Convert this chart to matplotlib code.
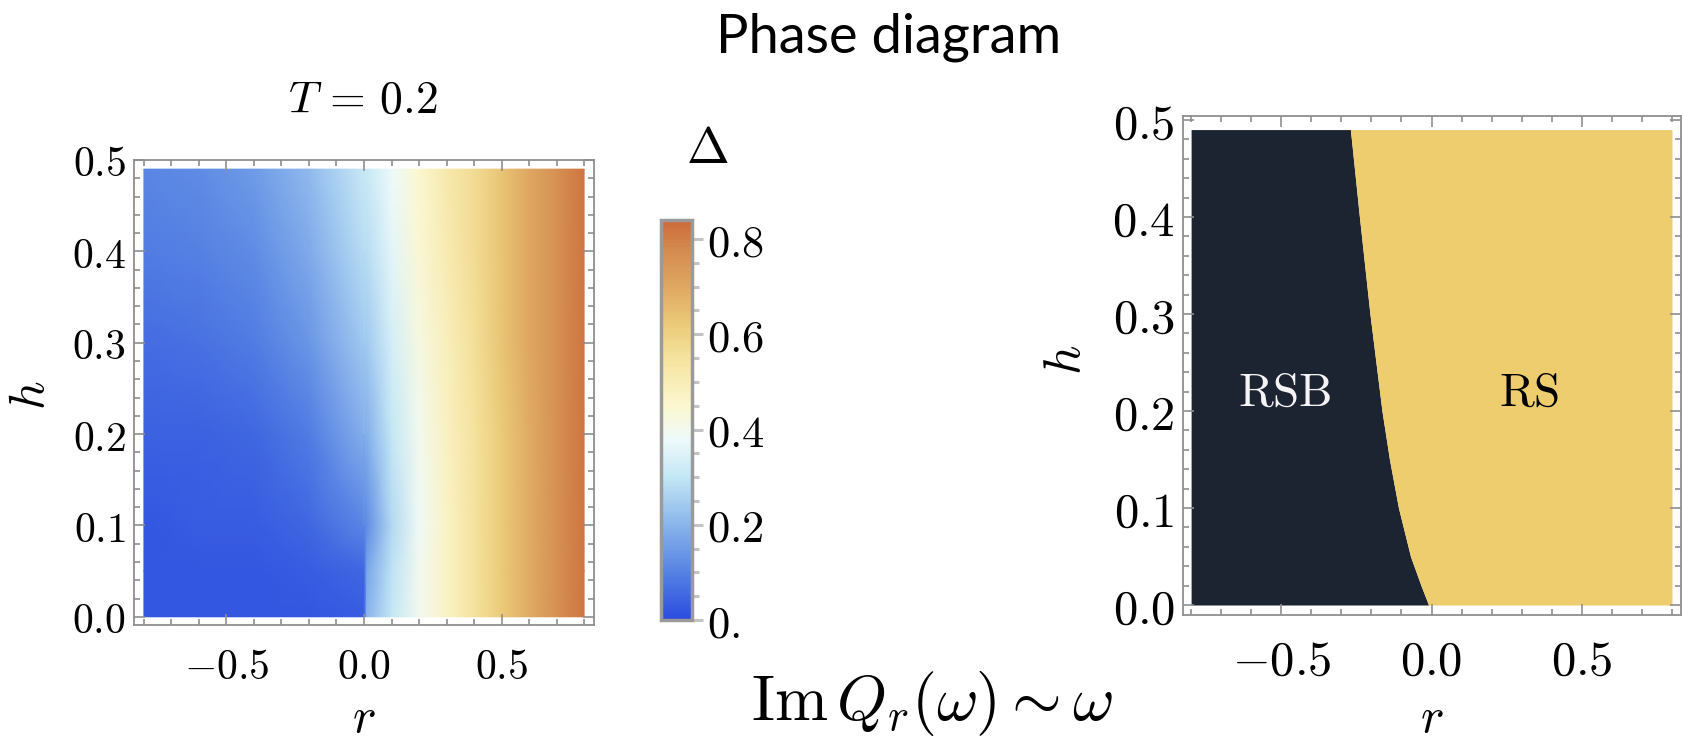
import numpy as np
import matplotlib
matplotlib.use("Agg")
import matplotlib.pyplot as plt
from matplotlib.colors import LinearSegmentedColormap
from matplotlib.ticker import MultipleLocator, FixedLocator, FuncFormatter

plt.rcParams['mathtext.fontset'] = 'cm'
plt.rcParams['font.family'] = ['DejaVu Sans']

# ---------------- data ----------------
# left panel: gap Delta(r, h) on a coarse grid
r_grid = [-0.8, -0.6, -0.4, -0.2, 0.0, 0.01, 0.1, 0.2, 0.3, 0.4, 0.5, 0.6, 0.7, 0.8]
h_grid = [0.0, 0.05, 0.1, 0.2, 0.3, 0.4, 0.49]
delta_h000 = [0.02, 0.02, 0.02, 0.02, 0.03, 0.20, 0.30, 0.40, 0.47, 0.55, 0.62, 0.69, 0.76, 0.82]
delta_h005 = [0.02, 0.02, 0.02, 0.03, 0.05, 0.17, 0.29, 0.40, 0.47, 0.55, 0.62, 0.69, 0.76, 0.82]
delta_h010 = [0.02, 0.03, 0.03, 0.05, 0.11, 0.12, 0.27, 0.39, 0.47, 0.55, 0.62, 0.69, 0.76, 0.82]
delta_h020 = [0.04, 0.04, 0.05, 0.09, 0.19, 0.19, 0.30, 0.40, 0.48, 0.55, 0.62, 0.69, 0.76, 0.82]
delta_h030 = [0.06, 0.07, 0.09, 0.14, 0.24, 0.24, 0.33, 0.42, 0.49, 0.56, 0.63, 0.70, 0.76, 0.82]
delta_h040 = [0.09, 0.10, 0.12, 0.18, 0.28, 0.28, 0.36, 0.44, 0.51, 0.57, 0.63, 0.70, 0.76, 0.82]
delta_h049 = [0.11, 0.12, 0.15, 0.21, 0.31, 0.31, 0.38, 0.45, 0.52, 0.57, 0.63, 0.70, 0.76, 0.82]
delta_min, delta_max = 0.0, 0.84
cbar_ticks = [0.0, 0.2, 0.4, 0.6, 0.8]
cbar_labels = ["0.", "0.2", "0.4", "0.6", "0.8"]

# right panel: RSB / RS boundary r_c(h)
boundary_h = [0.0, 0.02, 0.05, 0.10, 0.15, 0.20, 0.30, 0.40, 0.49]
boundary_r = [-0.01, -0.035, -0.07, -0.11, -0.14, -0.165, -0.205, -0.24, -0.27]
r_min, r_max = -0.8, 0.8

xticks = [-0.5, 0.0, 0.5]
yticks = [0.0, 0.1, 0.2, 0.3, 0.4, 0.5]

# ---------------- styling ----------------
W, H = 1682, 742
DPI = 100
frame_col = '#8f8f8f'
dark_col = '#1c2431'
gold_col = '#edcd6e'

cmap = LinearSegmentedColormap.from_list('temperature', [
    (0.000, '#2b4ce0'),
    (0.119, '#5682e3'),
    (0.238, '#8ab5ec'),
    (0.357, '#c3e7f5'),
    (0.452, '#eefafa'),
    (0.536, '#fcf7d0'),
    (0.655, '#f5e39e'),
    (0.738, '#ebcb79'),
    (0.833, '#dfa862'),
    (0.929, '#d48a4e'),
    (1.000, '#cd6a3a'),
])


def box(x0, y0, x1, y1):
    return [x0 / W, 1 - y1 / H, (x1 - x0) / W, (y1 - y0) / H]


def fmt(v, pos):
    return r"$%.1f$" % v if abs(v) > 1e-9 else r"$0.0$"


def style_frame(ax, size, xpad, ypad):
    for s in ax.spines.values():
        s.set_color(frame_col)
        s.set_linewidth(1.3)
    ax.xaxis.set_major_locator(FixedLocator(xticks))
    ax.yaxis.set_major_locator(FixedLocator(yticks))
    ax.xaxis.set_minor_locator(MultipleLocator(0.1))
    ax.yaxis.set_minor_locator(MultipleLocator(0.02))
    ax.xaxis.set_major_formatter(FuncFormatter(fmt))
    ax.yaxis.set_major_formatter(FuncFormatter(fmt))
    ax.tick_params(which='both', direction='in', top=True, right=True,
                   color=frame_col, width=1.2)
    ax.tick_params(which='major', length=8, labelsize=size)
    ax.tick_params(which='minor', length=4)
    ax.tick_params(axis='x', which='major', pad=xpad)
    ax.tick_params(axis='y', which='major', pad=ypad)


fig = plt.figure(figsize=(W / DPI, H / DPI), dpi=DPI)
fig.patch.set_facecolor('white')

# ---------------- left panel ----------------
ax1 = fig.add_axes(box(134, 160, 594, 625))
R, Hh = np.meshgrid(r_grid, h_grid)
D = np.array([delta_h000, delta_h005, delta_h010, delta_h020,
              delta_h030, delta_h040, delta_h049])
mesh = ax1.pcolormesh(R, Hh, D, shading='gouraud', cmap=cmap,
                      vmin=delta_min, vmax=delta_max, rasterized=True)
ax1.set_xlim(-0.836, 0.836)
ax1.set_ylim(-0.009, 0.5)
style_frame(ax1, 30, 15, 6)

fig.text(363 / W, 1 - 113 / H, r"$T\,=\,0.2$", fontsize=33, ha='center', va='baseline')
fig.text(30 / W, 1 - 395 / H, r"$h$", fontsize=36, ha='center', va='center', rotation=90)
fig.text(364 / W, 1 - 718 / H, r"$r$", fontsize=36, ha='center', va='center')

# colorbar
cax = fig.add_axes(box(661, 220, 692, 620))
cb = fig.colorbar(mesh, cax=cax)
cb.outline.set_edgecolor('#9a9a9a')
cb.outline.set_linewidth(2.5)
cb.set_ticks(cbar_ticks)
cb.set_ticklabels([r"$%s$" % s for s in cbar_labels])
cax.yaxis.set_minor_locator(MultipleLocator(0.05))
cax.tick_params(which='both', direction='out', color='#c4c4c4', width=2.2)
cax.tick_params(which='major', length=8, labelsize=32, pad=3)
cax.tick_params(which='minor', length=5)
fig.text(707 / W, 1 - 163 / H, r"$\Delta$", fontsize=37, ha='center', va='baseline')

# ---------------- right panel ----------------
ax2 = fig.add_axes(box(1183, 116, 1681, 615))
ax2.fill_betweenx(boundary_h, r_min, boundary_r, color=dark_col, lw=0)
ax2.fill_betweenx(boundary_h, boundary_r, r_max, color=gold_col, lw=0)
ax2.set_xlim(-0.827, 0.83)
ax2.set_ylim(-0.0103, 0.504)
style_frame(ax2, 35, 16, 6)
ax2.text(-0.487, 0.218, r"$\mathrm{RSB}$", fontsize=34, color='#f4f4f4',
         ha='center', va='center')
ax2.text(0.323, 0.218, r"$\mathrm{RS}$", fontsize=34, color='black',
         ha='center', va='center')
fig.text(1066 / W, 1 - 360 / H, r"$h$", fontsize=37, ha='center', va='center', rotation=90)
fig.text(1432 / W, 1 - 718 / H, r"$r$", fontsize=36, ha='center', va='center')

# ---------------- figure texts ----------------
fig.text(889 / W, 1 - 53 / H, "Phase diagram", fontsize=39, family=['Lato', 'DejaVu Sans'],
         ha='center', va='baseline')
fig.text(932 / W, 1 - 720 / H, r"$\mathrm{Im}\,Q_r(\omega)\sim\omega$", fontsize=46,
         ha='center', va='baseline')

fig.savefig('out.png', dpi=DPI)
